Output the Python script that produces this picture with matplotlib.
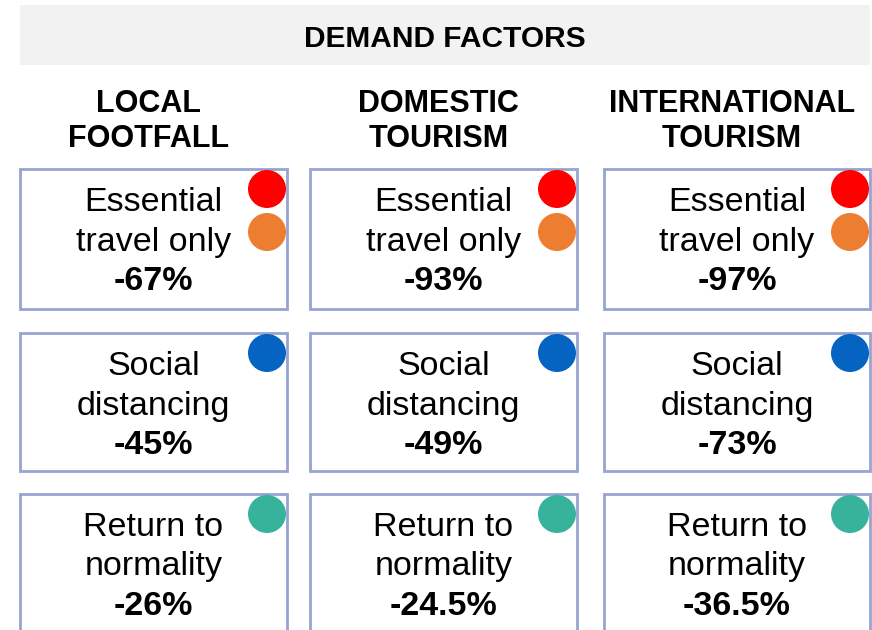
import matplotlib.pyplot as plt
from matplotlib.patches import Rectangle, Circle

plt.rcParams['font.family'] = ['Liberation Sans', 'DejaVu Sans']

title = "DEMAND FACTORS"
columns = [["LOCAL", "FOOTFALL"], ["DOMESTIC", "TOURISM"], ["INTERNATIONAL", "TOURISM"]]
scenarios = [["Essential", "travel only"], ["Social", "distancing"], ["Return to", "normality"]]
# change vs baseline, rows = scenarios, cols = columns
values = [["-67%", "-93%", "-97%"],
          ["-45%", "-49%", "-73%"],
          ["-26%", "-24.5%", "-36.5%"]]
dot_colors = [["#ff0000", "#ed7d31"], ["#0563c1"], ["#36b39a"]]

W, H = 872, 630
fig = plt.figure(figsize=(W / 100, H / 100), dpi=100)
ax = fig.add_axes([0, 0, 1, 1])
ax.set_xlim(0, W)
ax.set_ylim(H, 0)
ax.axis('off')

# header band
ax.add_patch(Rectangle((20, 5), 850, 60, facecolor='#f2f2f2', edgecolor='none'))
ax.text(445, 47, title, ha='center', va='baseline', fontsize=21.5, fontweight='bold')

col_x = [(20, 287), (310, 577), (604, 870)]
row_y = [(169, 309), (333, 471), (494, 660)]
edge = '#97a4d2'

for j, (x0, x1) in enumerate(col_x):
    cx = (x0 + x1) / 2
    for n, line in enumerate(columns[j]):
        ax.text(cx - 5, 112.5 + 34.5 * n, line, ha='center', va='baseline', fontsize=22,
                fontweight='bold')
    for i, (y0, y1) in enumerate(row_y):
        ax.add_patch(Rectangle((x0, y0), x1 - x0, y1 - y0, facecolor='white',
                               edgecolor=edge, linewidth=2))
        for n, line in enumerate(scenarios[i]):
            ax.text(cx, y0 + 42 + 39.5 * n, line, ha='center', va='baseline', fontsize=24.5)
        ax.text(cx, y0 + 121, values[i][j], ha='center', va='baseline', fontsize=24.5,
                fontweight='bold')
        for k, c in enumerate(dot_colors[i]):
            ax.add_patch(Circle((x1 - 20, y0 + 20 + 43 * k), 19, facecolor=c,
                                edgecolor='none', zorder=5))

fig.savefig('out.png', dpi=100)
